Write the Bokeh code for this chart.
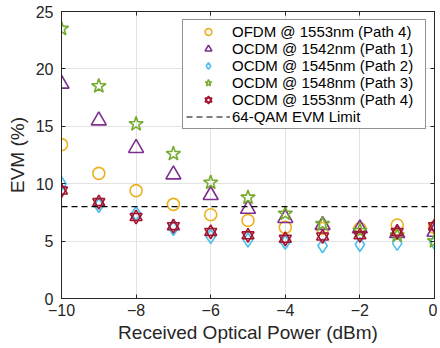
from bokeh.plotting import figure
from bokeh.models import (LinearAxis, Legend, LegendItem, FixedTicker, Range1d, Grid)
from bokeh.embed import file_html
from bokeh.resources import INLINE

power = [-10, -9, -8, -7, -6, -5, -4, -3, -2, -1, 0]
ofdm_1553_p4 = [13.4, 10.9, 9.4, 8.2, 7.3, 6.8, 6.2, 6.1, 6.1, 6.4, 6.2]
ocdm_1542_p1 = [18.7, 15.5, 13.1, 10.8, 9.0, 7.8, 7.0, 6.4, 6.1, 5.7, 5.8]
ocdm_1545_p2 = [10.0, 8.1, 7.4, 6.1, 5.4, 5.1, 4.9, 4.6, 4.7, 4.8, 4.9]
ocdm_1548_p3 = [23.5, 18.5, 15.2, 12.6, 10.1, 8.8, 7.4, 6.5, 5.9, 5.5, 5.0]
ocdm_1553_p4 = [9.4, 8.4, 7.1, 6.3, 5.8, 5.5, 5.2, 5.4, 5.5, 5.8, 6.3]
evm_limit = 8
x_ticks = [-10, -8, -6, -4, -2, 0]
y_ticks = [0, 5, 10, 15, 20, 25]

labels = ["OFDM @ 1553nm (Path 4)", "OCDM @ 1542nm (Path 1)", "OCDM @ 1545nm (Path 2)",
          "OCDM @ 1548nm (Path 3)", "OCDM @ 1553nm (Path 4)", "64-QAM EVM Limit"]

FONT = "Liberation Sans"
TXT = "#262626"

p = figure(width=437, height=346, output_backend="svg", toolbar_location=None,
           x_range=Range1d(-10, 0), y_range=Range1d(0, 25),
           min_border_left=61, min_border_right=3, min_border_top=11, min_border_bottom=48,
           x_axis_location=None, y_axis_location=None)
p.outline_line_color = TXT
p.outline_line_width = 1
p.background_fill_color = "white"
p.border_fill_color = "white"

def mk_axis(kind, loc, show_labels):
    ax = LinearAxis()
    ax.ticker = FixedTicker(ticks=x_ticks if kind == "x" else y_ticks)
    ax.axis_line_color = TXT
    ax.major_tick_in = 4
    ax.major_tick_out = 0
    ax.minor_tick_line_color = None
    ax.major_tick_line_color = TXT
    if show_labels:
        ax.major_label_text_font = FONT
        ax.major_label_text_font_size = "16px"
        ax.major_label_text_color = TXT
        ax.axis_label_text_font = FONT
        ax.axis_label_text_font_size = "19px"
        ax.axis_label_text_font_style = "normal"
        ax.axis_label_text_color = TXT
    else:
        ax.major_label_text_font_size = "0px"
        ax.major_label_standoff = 0
    p.add_layout(ax, loc)
    return ax

xb = mk_axis("x", "below", True)
xb.axis_label = "Received Optical Power (dBm)"
xb.major_label_standoff = 5
xb.axis_label_standoff = 3
yl = mk_axis("y", "left", True)
yl.axis_label = "EVM (%)"
yl.major_label_standoff = 8
yl.axis_label_standoff = 5
mk_axis("x", "above", False)
mk_axis("y", "right", False)

p.xgrid.visible = False
p.ygrid.visible = False
p.add_layout(Grid(dimension=0, ticker=FixedTicker(ticks=x_ticks), grid_line_color="#e3e3e3"))
p.add_layout(Grid(dimension=1, ticker=FixedTicker(ticks=y_ticks), grid_line_color="#e3e3e3"))

lw = 1.6
r1 = p.scatter(power, ofdm_1553_p4, marker="circle", size=12, fill_color=None,
               line_color="#EDB120", line_width=lw)
r2 = p.scatter(power, ocdm_1542_p1, marker="triangle", size=15, fill_color=None,
               line_color="#7E2F8E", line_width=lw)
r3 = p.scatter(power, ocdm_1545_p2, marker="diamond", size=14, fill_color=None,
               line_color="#4DBEEE", line_width=lw)
r4 = p.scatter(power, ocdm_1548_p3, marker="star", size=15, fill_color=None,
               line_color="#77AC30", line_width=lw)
r5a = p.scatter(power, ocdm_1553_p4, marker="triangle", size=12, fill_color=None,
                line_color="#A2142F", line_width=lw)
r5b = p.scatter(power, ocdm_1553_p4, marker="inverted_triangle", size=12, fill_color=None,
                line_color="#A2142F", line_width=lw)
r6 = p.line([power[0], power[-1]], [evm_limit, evm_limit], line_color="black",
            line_width=1.2, line_dash="6 4")

items = [LegendItem(label=labels[0], renderers=[r1]),
         LegendItem(label=labels[1], renderers=[r2]),
         LegendItem(label=labels[2], renderers=[r3]),
         LegendItem(label=labels[3], renderers=[r4]),
         LegendItem(label=labels[4], renderers=[r5a, r5b]),
         LegendItem(label=labels[5], renderers=[r6])]
leg = Legend(items=items, location="top_right", margin=8, padding=3, spacing=0,
             glyph_width=44, glyph_height=17, label_height=17, label_width=190,
             label_standoff=2, label_text_font=FONT, label_text_font_size="15px",
             label_text_color="black", border_line_color=TXT, border_line_width=1,
             background_fill_color="white", background_fill_alpha=1)
p.add_layout(leg, "center")

open("out.html", "w").write(file_html(p, INLINE))
